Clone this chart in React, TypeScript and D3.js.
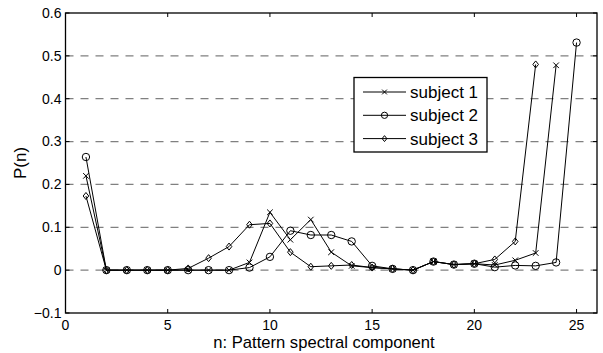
import { useEffect, useRef } from 'react'
import * as d3 from 'd3'

const nValues = [1,2,3,4,5,6,7,8,9,10,11,12,13,14,15,16,17,18,19,20,21,22,23,24,25]
const subject1 = [0.22,0,0,0,0,0,0,0,0.018,0.135,0.071,0.118,0.042,0.01,0.006,0.003,0,0.02,0.013,0.015,0.012,0.023,0.04,0.478,null]
const subject2 = [0.264,0,0,0,0,0,0,0,0.006,0.031,0.092,0.082,0.082,0.067,0.01,0.003,0,0.02,0.013,0.015,0.007,0.011,0.01,0.018,0.531]
const subject3 = [0.173,0,0,0,0,0.004,0.028,0.055,0.106,0.109,0.042,0.008,0.01,0.012,0.006,0.003,0,0.02,0.013,0.015,0.025,0.067,0.48,null,null]
const seriesNames = ['subject 1','subject 2','subject 3']
const markers = ['x','o','d']
const xTicks = [0,5,10,15,20,25]
const yTicks = [-0.1,0,0.1,0.2,0.3,0.4,0.5,0.6]

export default function App() {
  const ref = useRef<SVGSVGElement>(null)

  useEffect(() => {
    const svg = d3.select(ref.current!)
    svg.selectAll('*').remove()
    const W = 603, H = 353
    const L = 65.5, R = 597, T = 13, B = 313
    const x = d3.scaleLinear().domain([0,26]).range([L,R])
    const y = d3.scaleLinear().domain([-0.1,0.6]).range([B,T])
    const font = 'Liberation Sans, Arial, sans-serif'
    svg.attr('width',W).attr('height',H).style('font-family',font)
    svg.append('rect').attr('width',W).attr('height',H).attr('fill','#fff')

    // dashed grid
    yTicks.filter(v => v > -0.05 && v < 0.55).forEach(v => {
      svg.append('line').attr('x1',L).attr('x2',R).attr('y1',y(v)).attr('y2',y(v))
        .attr('stroke','#808080').attr('stroke-width',1.3).attr('stroke-dasharray','8,7')
    })

    // ticks inside, all sides
    const tk = 4
    yTicks.forEach(v => {
      svg.append('line').attr('x1',L).attr('x2',L+tk).attr('y1',y(v)).attr('y2',y(v)).attr('stroke','#000')
      svg.append('line').attr('x1',R).attr('x2',R-tk).attr('y1',y(v)).attr('y2',y(v)).attr('stroke','#000')
      svg.append('text').attr('x',L-4).attr('y',y(v)).attr('dy','0.35em').attr('text-anchor','end')
        .attr('font-size',14).text(v === 0 ? '0' : d3.format('.1f')(v))
    })
    xTicks.forEach(v => {
      svg.append('line').attr('x1',x(v)).attr('x2',x(v)).attr('y1',B).attr('y2',B-tk).attr('stroke','#000')
      svg.append('line').attr('x1',x(v)).attr('x2',x(v)).attr('y1',T).attr('y2',T+tk).attr('stroke','#000')
      svg.append('text').attr('x',x(v)).attr('y',B+17).attr('text-anchor','middle')
        .attr('font-size',14).text(String(v))
    })

    const allSeries = [subject1, subject2, subject3]
    const drawMarker = (g: any, kind: string, cx: number, cy: number, k = 1) => {
      if (kind === 'x') {
        const s = 2.8 * k
        g.append('path').attr('d',`M${cx-s},${cy-s}L${cx+s},${cy+s}M${cx-s},${cy+s}L${cx+s},${cy-s}`)
          .attr('stroke','#000').attr('fill','none')
      } else if (kind === 'o') {
        g.append('circle').attr('cx',cx).attr('cy',cy).attr('r',3.7 * k).attr('stroke','#000').attr('fill','none')
      } else {
        const s = 3.5 * k
        g.append('path').attr('d',`M${cx},${cy-s}L${cx+s*0.8},${cy}L${cx},${cy+s}L${cx-s*0.8},${cy}Z`)
          .attr('stroke','#000').attr('fill','none')
      }
    }

    allSeries.forEach((vals, i) => {
      const pts = nValues.map((n, j) => ({ n, v: vals[j] })).filter(p => p.v !== null) as { n: number, v: number }[]
      const line = d3.line<{ n: number, v: number }>().x(p => x(p.n)).y(p => y(p.v))
      const g = svg.append('g')
      g.append('path').attr('d',line(pts)!).attr('fill','none').attr('stroke','#000').attr('stroke-width',1)
      pts.forEach(p => drawMarker(g, markers[i], x(p.n), y(p.v)))
    })

    // box
    svg.append('rect').attr('x',L).attr('y',T).attr('width',R-L).attr('height',B-T)
      .attr('fill','none').attr('stroke','#000').attr('stroke-width',1.3)

    // legend
    const lg = svg.append('g')
    lg.append('rect').attr('x',354).attr('y',77.5).attr('width',133).attr('height',74.5)
      .attr('fill','#fff').attr('stroke','#000').attr('stroke-width',1.3)
    seriesNames.forEach((name, i) => {
      const ly = 92 + i*23.3
      lg.append('line').attr('x1',363).attr('x2',406).attr('y1',ly).attr('y2',ly).attr('stroke','#000')
      drawMarker(lg, markers[i], 384.5, ly, 0.85)
      lg.append('text').attr('x',410).attr('y',ly).attr('dy','0.36em').attr('font-size',17).text(name)
    })

    svg.append('text').attr('x',324).attr('y',348).attr('text-anchor','middle')
      .attr('font-size',16.6).text('n: Pattern spectral component')
    svg.append('text').attr('transform',`translate(25.5,${(T+B)/2}) rotate(-90)`).attr('text-anchor','middle')
      .attr('font-size',17).text('P(n)')
  }, [])

  return <svg ref={ref} style={{ position: 'absolute', left: 0, top: 0 }} />
}
